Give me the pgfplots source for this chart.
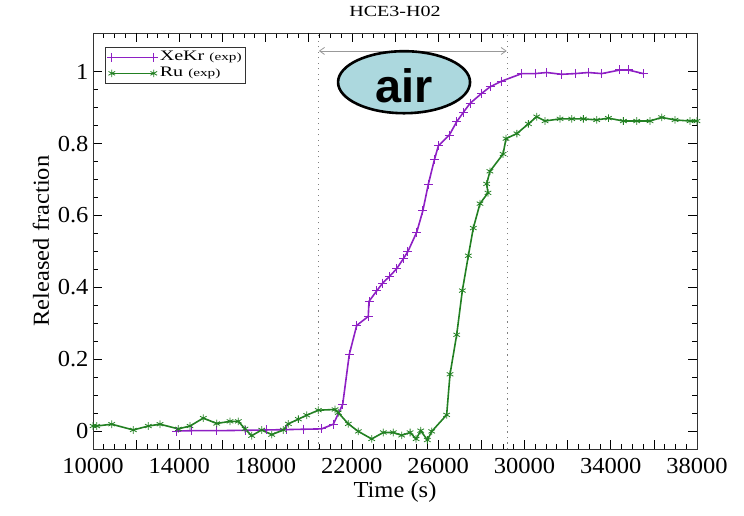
\documentclass[border=0pt]{standalone}
\usepackage{fontspec}
\setmainfont{Liberation Serif}[FakeStretch=1.07]
\newfontfamily\airfont{Liberation Sans}
\usepackage{graphicx}
\usepackage{pgfplots}
\usepackage{pgfplotstable}
\pgfplotsset{compat=1.18}
\usetikzlibrary{arrows.meta}

\definecolor{xekr}{RGB}{142,32,196}
\definecolor{ru}{RGB}{34,128,34}
\definecolor{airblue}{RGB}{172,216,222}

% legend labels: wide serif, smaller "(exp)"
\newcommand{\legtext}[1]{\scalebox{1.3}[1]{\fontsize{14.5}{14}\selectfont #1 {\fontsize{11}{11}\selectfont (exp)}}}

% XeKr release (experiment)
\pgfplotstableread{
t      f
13880  0.000
14575  0.001
15734  0.001
17047  0.002
18052  0.003
18980  0.004
19750  0.005
20600  0.006
21140  0.019
21575  0.074
21880  0.213
22225  0.294
22760  0.319
22795  0.361
23150  0.390
23430  0.412
23740  0.430
24080  0.452
24390  0.480
24600  0.500
25010  0.554
25290  0.613
25545  0.687
25825  0.755
26010  0.794
26520  0.824
26860  0.861
27168  0.887
27477  0.912
28020  0.940
28405  0.958
28947  0.974
29874  0.995
30490  0.995
31032  0.998
31727  0.993
32345  0.995
32963  0.998
33580  0.995
34430  1.005
34818  1.005
35513  0.995
}\xekrdata

% Ru release (experiment)
\pgfplotstableread{
t      f
10000  0.014
10170  0.014
10867  0.019
11868  0.003
12564  0.014
13106  0.019
13955  0.006
14497  0.014
15114  0.036
15734  0.021
16352  0.027
16736  0.027
17046  0.006
17355 -0.013
17820  0.003
18284 -0.010
18824  0.003
19055  0.020
19520  0.033
19907  0.044
20445  0.058
21219  0.060
21372  0.051
21836  0.020
22300 -0.001
22920 -0.022
23458 -0.004
23922 -0.004
24310 -0.012
24700 -0.004
24978 -0.022
25193  0.001
25500 -0.025
25703 -0.001
26395  0.045
26550  0.158
26860  0.268
27122  0.391
27400  0.488
27630  0.565
27940  0.633
28310  0.663
28250  0.688
28400  0.723
29010  0.771
29146  0.814
29650  0.828
30182  0.855
30568  0.875
30955  0.863
31650  0.869
32192  0.869
32733  0.869
33351  0.866
33893  0.871
34587  0.863
35205  0.863
35823  0.863
36365  0.873
36982  0.866
37677  0.863
38000  0.863
}\rudata

\begin{document}
\begin{tikzpicture}
\begin{axis}[
  scale only axis,
  width=604bp, height=416bp,
  xmin=10000, xmax=38000,
  ymin=-0.05, ymax=1.108,
  xtick={10000,14000,...,38000},
  scaled x ticks=false,
  minor x tick num=7,
  extra x ticks={12000,16000,...,36000},
  extra x tick labels={},
  ytick={0,0.2,...,1},
  minor y tick num=3,
  major tick length=9bp,
  minor tick length=5bp,
  tick style={black, line width=0.6bp},
  axis line style={black!80, line width=0.8bp},
  /pgf/number format/.cd, 1000 sep={}, assume math mode=true,
  /pgfplots/.cd,
  tick label style={font=\fontsize{23}{26}\selectfont},
  xticklabel style={yshift=-6bp},
  yticklabel style={xshift=-1bp},
  xlabel={Time (s)},
  ylabel={Released fraction},
  xlabel style={yshift=-1bp},
  ylabel style={yshift=2bp},
  label style={font=\fontsize{23}{26}\selectfont},
  title={\scalebox{1.215}[1]{HCE3-H02}},
  title style={at={(0.5,1)}, anchor=base, yshift=10.5bp,
    font=\fontsize{15.5}{18}\selectfont},
  legend style={at={(0.02,0.966)}, anchor=north west, draw=black!80,
    row sep=0bp, inner sep=2bp,
    nodes={text height=10bp, text depth=3bp, inner sep=1.5bp}},
  legend cell align=left,
  legend image code/.code={\draw[mark repeat=2, mark phase=1, #1]
    plot coordinates {(0bp,0bp) (21bp,0bp) (42bp,0bp)};},
]
\addplot[xekr, line width=1.6bp, mark=+, mark size=4.5bp,
  mark options={line width=1bp}] table[x=t, y=f] {\xekrdata};
\addlegendentry{\legtext{XeKr}}
\addplot[ru, line width=1.6bp, mark=asterisk, mark size=3.8bp,
  mark options={line width=0.8bp}] table[x=t, y=f] {\rudata};
\addlegendentry{\legtext{Ru}}

% air-injection window
\draw[gray, line width=1.1bp, dash pattern=on 1.1bp off 4.4bp]
  (axis cs:20450,-0.05) -- (axis cs:20450,1.108);
\draw[gray, line width=1.1bp, dash pattern=on 1.1bp off 4.4bp]
  (axis cs:29200,-0.05) -- (axis cs:29200,1.108);
\draw[black!40, line width=0.8bp,
  {Straight Barb[length=5bp,width=7bp]}-{Straight Barb[length=5bp,width=7bp]}]
  (axis cs:20470,1.058) -- (axis cs:29180,1.058);
\draw[black, line width=2.6bp, fill=airblue]
  (axis cs:24420,0.971) ellipse [x radius=66bp, y radius=31bp];
\node[font=\airfont\bfseries\fontsize{47}{47}\selectfont] at (axis cs:24420,0.962) {air};
\end{axis}
\path (current axis.south west) ++(-93bp,-67bp);
\path (current axis.north east) ++(47bp,33bp);
\end{tikzpicture}
\end{document}
